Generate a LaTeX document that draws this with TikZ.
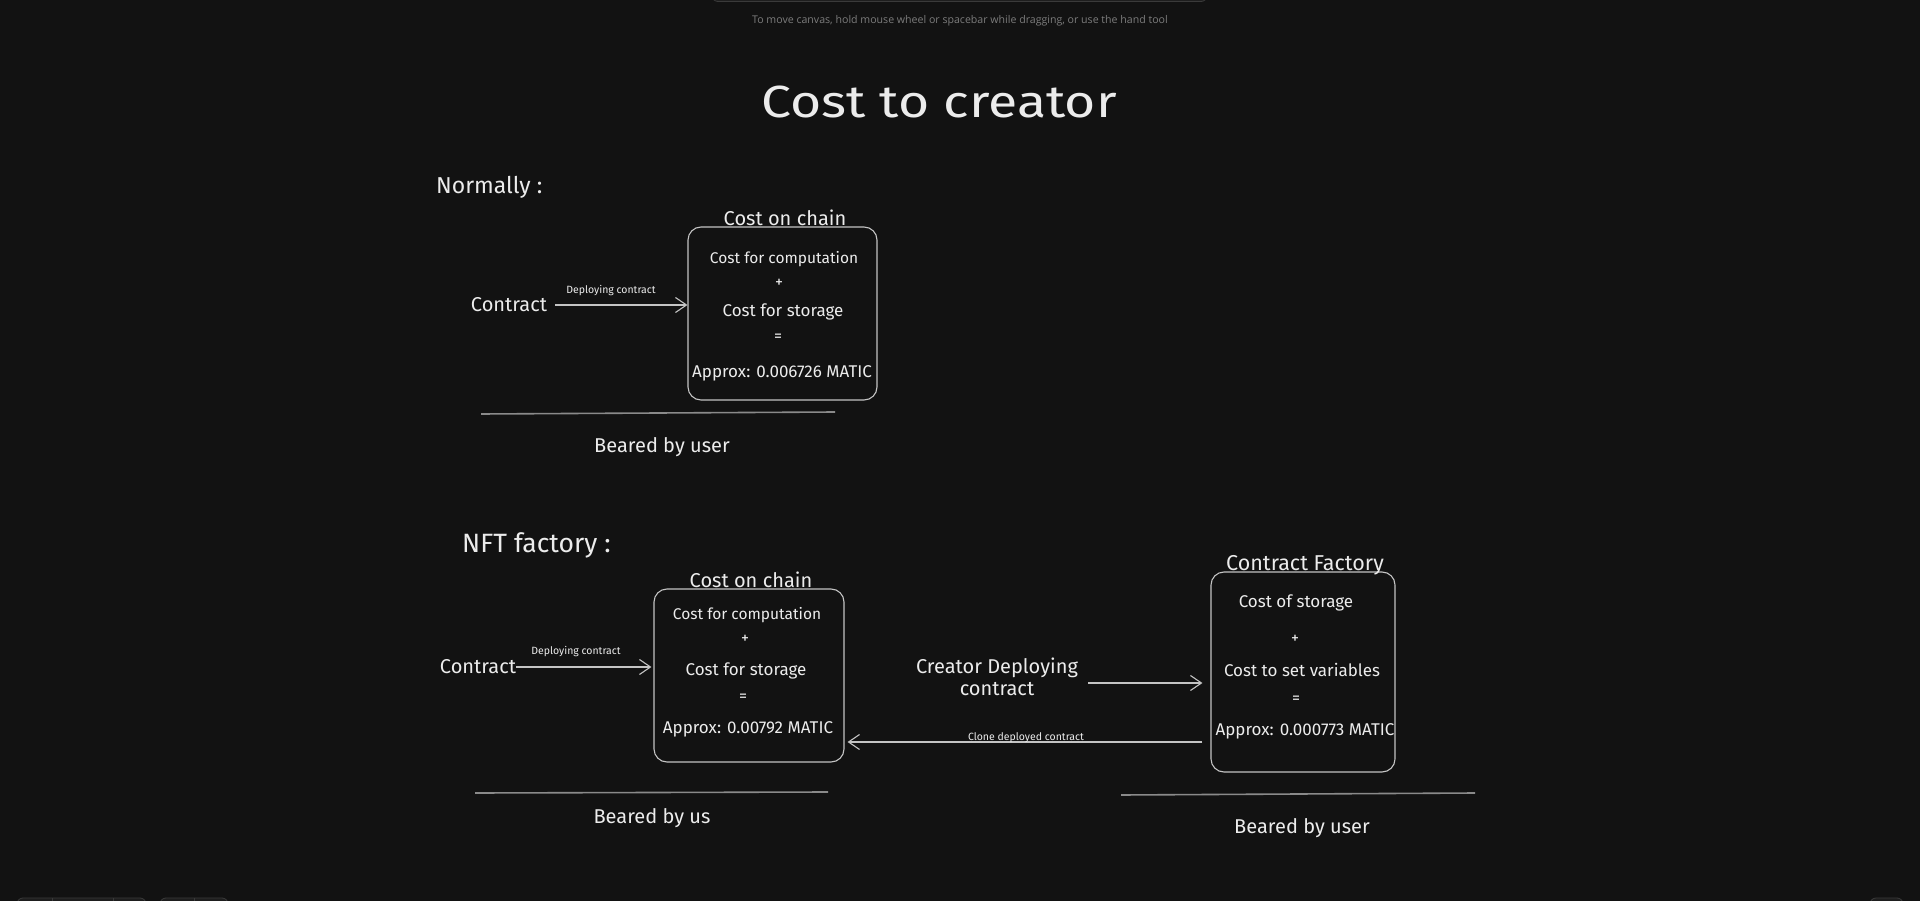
\documentclass[tikz,border=0pt]{standalone}
\usepackage{fontspec}
\setmainfont{Fira Sans}
\newfontfamily\hintfont{Open Sans}
\usetikzlibrary{arrows.meta}
\definecolor{bg}{HTML}{121212}
\definecolor{ink}{HTML}{ECECEC}
\definecolor{edge}{HTML}{C4C4C4}
\definecolor{rulecol}{HTML}{8A8A8A}
\definecolor{hintcol}{HTML}{7C7C7C}
\definecolor{chrome}{HTML}{1E1E1E}
\definecolor{chromeedge}{HTML}{3A3A3A}
\begin{document}
\begin{tikzpicture}[x=1pt,y=-1pt,
  txt/.style={text=ink, inner sep=0pt, anchor=center},
  fs/.style={font=\fontsize{#1}{#1}\selectfont},
  box/.style={draw=edge, line width=1.1pt, rounded corners=13pt, inner sep=0pt},
  arr/.style={draw=edge, line width=1.1pt, -{Straight Barb[length=11pt,width=15pt]}},
  underline/.style={draw=rulecol, line width=1.6pt},
  chromebox/.style={fill=chrome, draw=chromeedge, line width=0.8pt, rounded corners=6pt}
]
\fill[bg] (0,0) rectangle (1920,901);
\useasboundingbox (0,0) rectangle (1920,901);

% UI chrome
\begin{scope}
\clip (0,0) rectangle (1920,901);
\path[chromebox] (712,-20) rectangle (1207,1.5);
\path[chromebox] (17,898) rectangle (146,930);
\draw[chromeedge] (52,898) -- (52,901) (113,898) -- (113,901);
\path[chromebox] (160,898) rectangle (228,930);
\draw[chromeedge] (194,898) -- (194,901);
\path[chromebox] (1870,898) rectangle (1903,930);
\end{scope}
\node[inner sep=0pt, text=hintcol, font=\hintfont\fontsize{10.6}{12}\selectfont] (hint) at (960,21)
  {To move canvas, hold mouse wheel or spacebar while dragging, or use the hand tool};

% title
\node[txt, fs=45] (title) at (939,102) {\scalebox{1.19}[1]{Cost to creator}};

% ---------- Normally ----------
\node[txt, fs=23, anchor=west] (normally) at (436,187) {Normally :};
\node[box, minimum width=189pt, minimum height=173pt] (b1) at (782.5,313.5) {};
\node[txt, fs=20] (b1t) at (785,218) {Cost on chain};
\node[txt, fs=15.5] (b1l1) at (784,259) {Cost for computation};
\node[txt, fs=16] (b1l2) at (779,283) {+};
\node[txt, fs=17] (b1l3) at (783,312) {Cost for storage};
\node[txt, fs=16] (b1l4) at (778,338) {=};
\node[txt, fs=17] (b1l5) at (782,373) {Approx: 0.006726 MATIC};
\node[txt, fs=20] (c1) at (509,305) {Contract};
\draw[arr, shorten <=8pt] (c1.east) -- (c1.east -| b1.west);
\node[txt, fs=10.5] (l1) at (611,291) {Deploying contract};
\coordinate (u1a) at (481,414);
\coordinate (u1b) at (835,412);
\draw[underline] (u1a) -- (u1b);
\node[txt, fs=20] (bu1) at (662,447) {Beared by user};

% ---------- NFT factory ----------
\node[txt, fs=26.5, anchor=west] (nft) at (462,545) {NFT factory :};
\node[box, minimum width=190pt, minimum height=173pt] (b2) at (749,675.5) {};
\node[txt, fs=20] (b2t) at (751,580) {Cost on chain};
\node[txt, fs=15.5] (b2l1) at (747,615) {Cost for computation};
\node[txt, fs=16] (b2l2) at (745,639) {+};
\node[txt, fs=17] (b2l3) at (746,671) {Cost for storage};
\node[txt, fs=16] (b2l4) at (743,698) {=};
\node[txt, fs=17] (b2l5) at (748,729) {Approx: 0.00792 MATIC};
\node[txt, fs=20] (c2) at (478,667) {Contract};
\draw[arr, shorten >=2pt] (c2.east) -- (c2.east -| b2.west);
\node[txt, fs=10.5] (l2) at (576,652) {Deploying contract};
\coordinate (u2a) at (475,793);
\coordinate (u2b) at (828,792);
\draw[underline] (u2a) -- (u2b);
\node[txt, fs=20] (bu2) at (652,818) {Beared by us};

% ---------- Contract factory ----------
\node[box, minimum width=184pt, minimum height=200pt] (b3) at (1303,672) {};
\node[txt, fs=21.5] (b3t) at (1305,565) {Contract Factory};
\node[txt, fs=17] (b3l1) at (1296,603) {Cost of storage};
\node[txt, fs=16] (b3l2) at (1295,639) {+};
\node[txt, fs=17] (b3l3) at (1302,670) {Cost to set variables};
\node[txt, fs=16] (b3l4) at (1296,700) {=};
\node[txt, fs=17] (b3l5) at (1305,731) {Approx: 0.000773 MATIC};
\node[txt, font=\fontsize{20}{22}\selectfont, align=center] (cd) at (997,677) {Creator Deploying\\contract};
\coordinate (a3) at (1088,683);
\draw[arr, shorten >=8pt] (a3) -- (a3 -| b3.west);
\coordinate (cl) at (0,742);
\draw[arr, shorten <=8pt, shorten >=3pt] (b3.west |- cl) -- (b2.east |- cl);
\node[txt, fs=10.5] (l3) at (1026,738) {Clone deployed contract};
\coordinate (u3a) at (1121,795);
\coordinate (u3b) at (1475,793);
\draw[underline] (u3a) -- (u3b);
\node[txt, fs=20] (bu3) at (1302,828) {Beared by user};
\end{tikzpicture}
\end{document}
